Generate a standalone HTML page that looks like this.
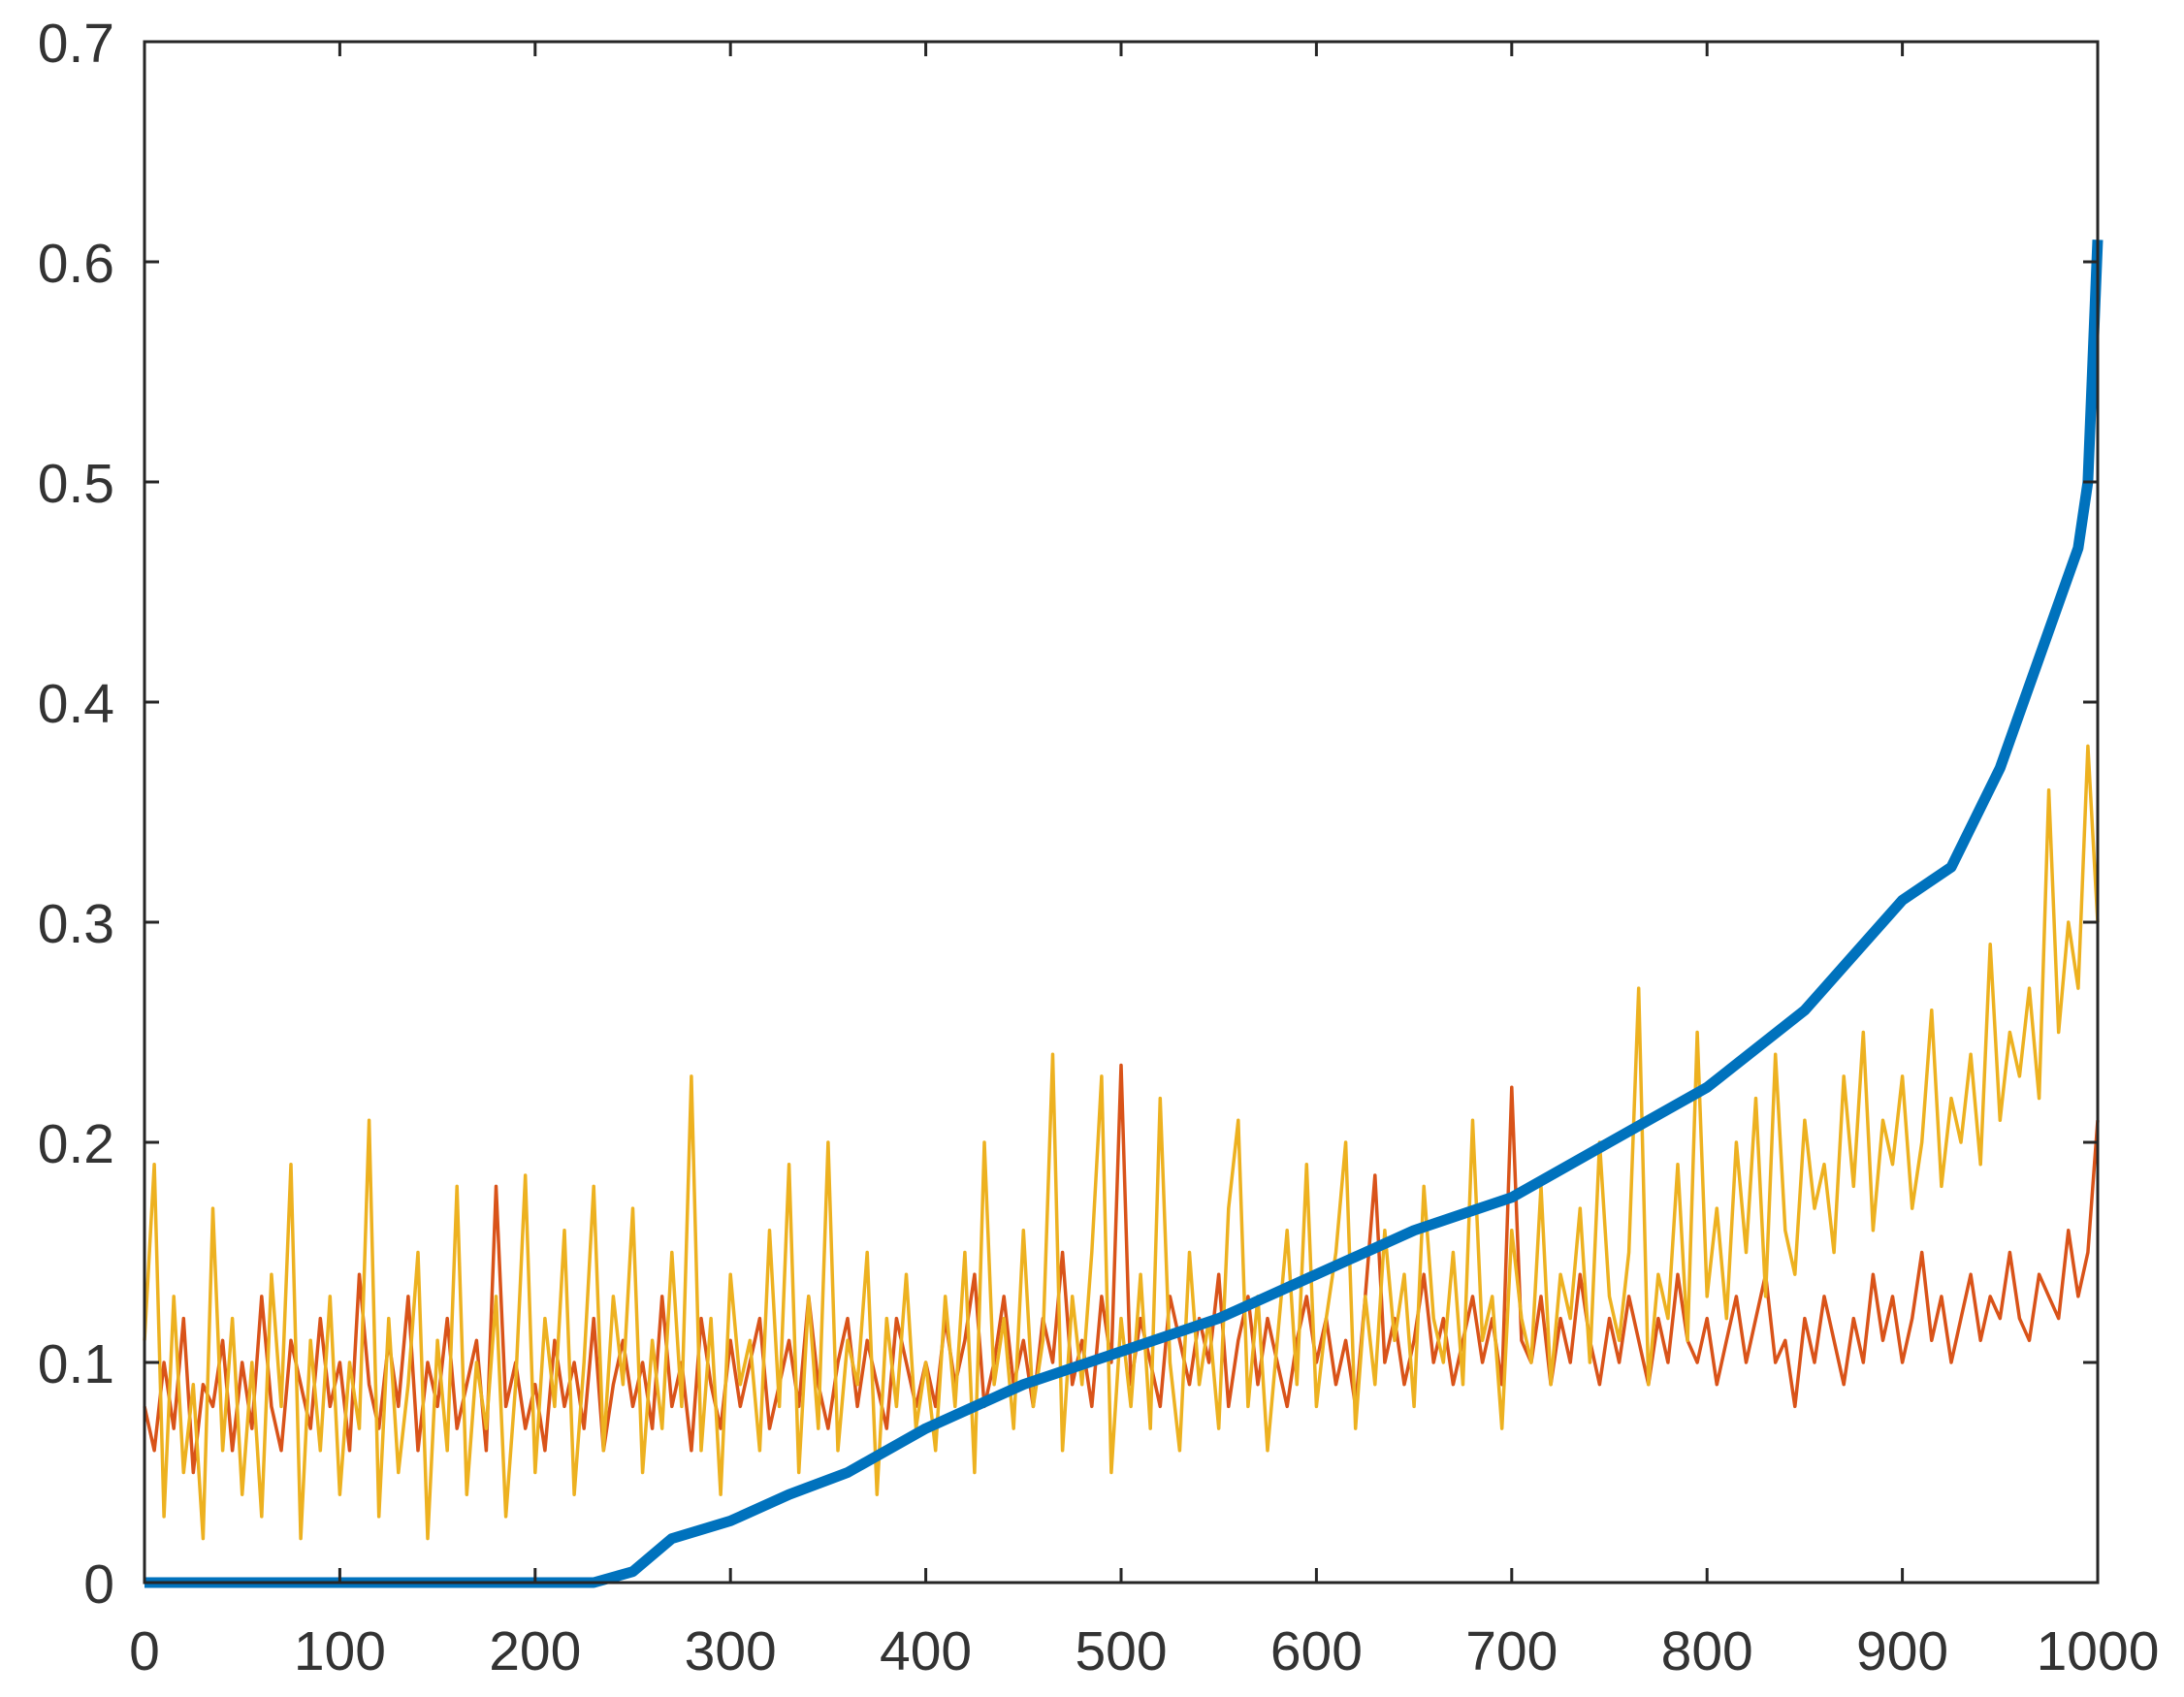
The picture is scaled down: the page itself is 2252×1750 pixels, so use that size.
<!DOCTYPE html>
<html><head><meta charset="utf-8"><style>
html,body{margin:0;padding:0;background:#fff;}
svg{display:block;}
text{font-family:"Liberation Sans",sans-serif;font-size:57px;fill:#333;}
</style></head><body>
<svg id="chart" width="2252" height="1750" viewBox="0 0 2252 1750" xmlns="http://www.w3.org/2000/svg">
<rect width="2252" height="1750" fill="#fff"/>
<g id="series"></g>
<g id="axes"></g>
</svg>
<script>
const xTicks=[0,100,200,300,400,500,600,700,800,900,1000];
const yTicks=[0,0.1,0.2,0.3,0.4,0.5,0.6,0.7];
const yTickLabels=["0","0.1","0.2","0.3","0.4","0.5","0.6","0.7"];
const noiseStep=5;
const yellowValues=[0.11,0.19,0.03,0.13,0.05,0.09,0.02,0.17,0.06,0.12,0.04,0.1,0.03,0.14,0.08,0.19,0.02,0.11,0.06,0.13,0.04,0.1,0.07,0.21,0.03,0.12,0.05,0.09,0.15,0.02,0.11,0.06,0.18,0.04,0.1,0.07,0.13,0.03,0.09,0.185,
0.05,0.12,0.08,0.16,0.04,0.1,0.18,0.06,0.13,0.09,0.17,0.05,0.11,0.07,0.15,0.08,0.23,0.06,0.12,0.04,0.14,0.09,0.11,0.06,0.16,0.08,0.19,0.05,0.13,0.07,0.2,0.06,0.11,0.09,0.15,0.04,0.12,0.08,0.14,0.07,
0.1,0.06,0.13,0.08,0.15,0.05,0.2,0.09,0.12,0.07,0.16,0.08,0.11,0.24,0.06,0.13,0.09,0.15,0.23,0.05,0.12,0.08,0.14,0.07,0.22,0.1,0.06,0.15,0.09,0.12,0.07,0.17,0.21,0.08,0.13,0.06,0.11,0.16,0.09,0.19,
0.08,0.12,0.15,0.2,0.07,0.13,0.09,0.16,0.11,0.14,0.08,0.18,0.12,0.1,0.15,0.09,0.21,0.11,0.13,0.07,0.16,0.12,0.1,0.18,0.09,0.14,0.12,0.17,0.1,0.2,0.13,0.11,0.15,0.27,0.09,0.14,0.12,0.19,0.11,0.25,
0.13,0.17,0.12,0.2,0.15,0.22,0.13,0.24,0.16,0.14,0.21,0.17,0.19,0.15,0.23,0.18,0.25,0.16,0.21,0.19,0.23,0.17,0.2,0.26,0.18,0.22,0.2,0.24,0.19,0.29,0.21,0.25,0.23,0.27,0.22,0.36,0.25,0.3,0.27,0.38,0.3];
const orangeValues=[0.08,0.06,0.1,0.07,0.12,0.05,0.09,0.08,0.11,0.06,0.1,0.07,0.13,0.08,0.06,0.11,0.09,0.07,0.12,0.08,0.1,0.06,0.14,0.09,0.07,0.11,0.08,0.13,0.06,0.1,0.08,0.12,0.07,0.09,0.11,0.06,0.18,0.08,0.1,0.07,
0.09,0.06,0.11,0.08,0.1,0.07,0.12,0.06,0.09,0.11,0.08,0.1,0.07,0.13,0.08,0.1,0.06,0.12,0.09,0.07,0.11,0.08,0.1,0.12,0.07,0.09,0.11,0.08,0.13,0.09,0.07,0.1,0.12,0.08,0.11,0.09,0.07,0.12,0.1,0.08,
0.1,0.08,0.12,0.09,0.11,0.14,0.08,0.1,0.13,0.09,0.11,0.08,0.12,0.1,0.15,0.09,0.11,0.08,0.13,0.1,0.235,0.09,0.12,0.1,0.08,0.13,0.11,0.09,0.12,0.1,0.14,0.08,0.11,0.13,0.09,0.12,0.1,0.08,0.11,0.13,
0.1,0.12,0.09,0.11,0.08,0.13,0.185,0.1,0.12,0.09,0.11,0.14,0.1,0.12,0.09,0.11,0.13,0.1,0.12,0.09,0.225,0.11,0.1,0.13,0.09,0.12,0.1,0.14,0.11,0.09,0.12,0.1,0.13,0.11,0.09,0.12,0.1,0.14,0.11,0.1,
0.12,0.09,0.11,0.13,0.1,0.12,0.14,0.1,0.11,0.08,0.12,0.1,0.13,0.11,0.09,0.12,0.1,0.14,0.11,0.13,0.1,0.12,0.15,0.11,0.13,0.1,0.12,0.14,0.11,0.13,0.12,0.15,0.12,0.11,0.14,0.13,0.12,0.16,0.13,0.15,0.21];
const blueX=[0,230,250,270,300,330,360,400,450,500,550,600,650,700,750,800,850,900,925,950,970,990,995,1000];
const blueValues=[0,0,0.005,0.02,0.028,0.04,0.05,0.07,0.09,0.105,0.12,0.14,0.16,0.175,0.2,0.225,0.26,0.31,0.325,0.37,0.42,0.47,0.5,0.61];

const L=149,R=2163,T=43,B=1632;
const xs=v=>L+(v-0)/(1000-0)*(R-L);
const ys=v=>B-(v-0)/(0.7-0)*(B-T);
const NS="http://www.w3.org/2000/svg";
const series=document.getElementById('series');
const axes=document.getElementById('axes');
function mk(tag,attrs,parent){const e=document.createElementNS(NS,tag);for(const k in attrs)e.setAttribute(k,attrs[k]);parent.appendChild(e);return e;}
function pathFrom(xv,yv){return xv.map((x,i)=>(i?'L':'M')+xs(x).toFixed(1)+' '+ys(yv[i]).toFixed(1)).join(' ');}

const noiseX=orangeValues.map((_,i)=>i*noiseStep);
let p=mk('path',{d:pathFrom(noiseX,orangeValues),fill:'none',stroke:'#D95319','stroke-width':3.5,'stroke-linejoin':'round'},series);


const yX=yellowValues.map((_,i)=>i*noiseStep);
p=mk('path',{d:pathFrom(yX,yellowValues),fill:'none',stroke:'#EDB120','stroke-width':3.5,'stroke-linejoin':'round'},series);


p=mk('path',{d:pathFrom(blueX,blueValues),fill:'none',stroke:'#0072BD','stroke-width':11,'stroke-linejoin':'round'},series);



let box=mk('rect',{x:L,y:T,width:R-L,height:B-T,fill:'none',stroke:'#262626','stroke-width':3},axes);


xTicks.forEach(v=>{
  const x=xs(v);
  let t=mk('line',{x1:x,x2:x,y1:B,y2:B-15,stroke:'#262626','stroke-width':3},axes);
  
  
  t=mk('line',{x1:x,x2:x,y1:T,y2:T+15,stroke:'#262626','stroke-width':3},axes);
  
  
  const lab=mk('text',{x:x,y:1722,'text-anchor':'middle'},axes);
  lab.textContent=String(v);
  
  
});
yTicks.forEach((v,i)=>{
  const y=ys(v);
  let t=mk('line',{x1:L,x2:L+15,y1:y,y2:y,stroke:'#262626','stroke-width':3},axes);
  
  
  t=mk('line',{x1:R,x2:R-15,y1:y,y2:y,stroke:'#262626','stroke-width':3},axes);
  
  
  const lab=mk('text',{x:118,y:y+21,'text-anchor':'end'},axes);
  lab.textContent=yTickLabels[i];
  
  
});
</script>
</body></html>
